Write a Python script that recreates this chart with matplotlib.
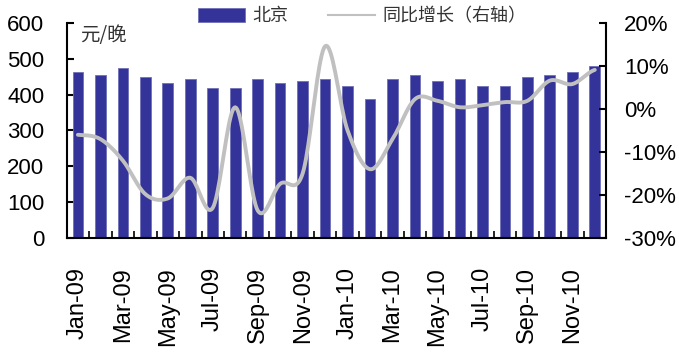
import numpy as np
import matplotlib
matplotlib.use('Agg')
import matplotlib.pyplot as plt
from matplotlib import font_manager
from matplotlib.patches import Patch
from matplotlib.lines import Line2D

# data
months = ['Jan-09', 'Feb-09', 'Mar-09', 'Apr-09', 'May-09', 'Jun-09',
          'Jul-09', 'Aug-09', 'Sep-09', 'Oct-09', 'Nov-09', 'Dec-09',
          'Jan-10', 'Feb-10', 'Mar-10', 'Apr-10', 'May-10', 'Jun-10',
          'Jul-10', 'Aug-10', 'Sep-10', 'Oct-10', 'Nov-10', 'Dec-10']
beijing = [462, 456, 474, 450, 432, 444, 419, 419, 444, 432, 438, 444,
           425, 389, 444, 456, 438, 444, 425, 425, 450, 456, 463, 481]
yoy = [-6.0, -7.0, -12.0, -19.8, -20.8, -16.0, -23.0, 0.4, -23.6, -17.4, -15.0, 14.6,
       -5.0, -14.0, -7.0, 2.3, 1.9, 0.4, 0.9, 1.6, 1.9, 6.6, 5.8, 9.1]
left_ticks = [0, 100, 200, 300, 400, 500, 600]
right_ticks = [-30, -20, -10, 0, 10, 20]


def pick_font(names, default):
    for n in names:
        try:
            font_manager.findfont(n, fallback_to_default=False)
            return n
        except ValueError:
            pass
    return default


def smooth(y, n=20):
    # excel-like smoothed line (catmull-rom through every point)
    y = np.asarray(y, dtype=float)
    xs, ys = [], []
    for i in range(len(y) - 1):
        p0 = y[i - 1] if i > 0 else y[i]
        p3 = y[i + 2] if i + 2 < len(y) else y[i + 1]
        m1 = (y[i + 1] - p0) / 2
        m2 = (p3 - y[i]) / 2
        t = np.linspace(0, 1, n, endpoint=False)
        h00 = 2 * t**3 - 3 * t**2 + 1
        h10 = t**3 - 2 * t**2 + t
        h01 = -2 * t**3 + 3 * t**2
        h11 = t**3 - t**2
        xs.append(i + t)
        ys.append(h00 * y[i] + h10 * m1 + h01 * y[i + 1] + h11 * m2)
    xs.append([len(y) - 1])
    ys.append([y[-1]])
    return np.concatenate(xs), np.concatenate(ys)


narrow = pick_font(['Liberation Sans Narrow'], None)
if narrow:
    num_font, num_size = narrow, 20
else:
    num_font, num_size = pick_font(['Liberation Sans', 'Arial'], 'DejaVu Sans'), 16
lab_font = pick_font(['Liberation Sans', 'Arial'], 'DejaVu Sans')
cjk = ['Noto Sans CJK SC', 'DejaVu Sans']

fig = plt.figure(figsize=(6.79, 3.56), dpi=100)
ax = fig.add_axes([0.0982, 0.3315, 0.7943, 0.6039])
x = np.arange(len(months))

ax.bar(x, beijing, width=0.475, color='#333399', edgecolor='#7070b8', linewidth=0.6, zorder=2)
ax.set_xlim(-0.5, len(months) - 0.5)
ax.set_ylim(0, 600)
ax.set_yticks(left_ticks)
ax.set_yticklabels([str(v) for v in left_ticks], fontsize=num_size, family=num_font)
ax.tick_params(axis='y', direction='in', length=5, width=1.5, pad=16)

ax.set_xticks(x[::2])
ax.set_xticklabels(months[::2], rotation=90, fontsize=17, family=lab_font)
ax.set_xticks(np.arange(len(months) + 1) - 0.5, minor=True)
ax.tick_params(axis='x', which='major', length=0, pad=21)
ax.tick_params(axis='x', which='minor', direction='in', length=5, width=1.2)

for s in ['top', 'right']:
    ax.spines[s].set_visible(False)
for s in ['left', 'bottom']:
    ax.spines[s].set_linewidth(1.5)

ax2 = ax.twinx()
sx, sy = smooth(yoy)
ax2.plot(sx, sy, color='#c0c0c0', linewidth=2.8, solid_capstyle='round')
ax2.set_ylim(-30, 20)
ax2.set_yticks(right_ticks)
ax2.set_yticklabels(['%d%%' % v for v in right_ticks], fontsize=num_size, family=num_font)
ax2.tick_params(axis='y', direction='in', length=5, width=1.5, pad=13)
for s in ['top', 'left', 'bottom']:
    ax2.spines[s].set_visible(False)
ax2.spines['right'].set_linewidth(1.5)

ax.text(0.025, 0.99, '元/晚', transform=ax.transAxes, ha='left', va='top',
        fontsize=14, family=cjk, color='#333333')

handles = [Patch(facecolor='#333399', edgecolor='#7070b8', linewidth=0.6),
           Line2D([], [], color='#c0c0c0', linewidth=1.5)]
fig.legend(handles, ['北京', '同比增长（右轴）'], loc='center left',
           bbox_to_anchor=(198 / 679, 1 - 16.5 / 356), ncol=2, frameon=False,
           prop={'family': cjk, 'size': 13}, labelcolor='#333333',
           handlelength=2.6, handleheight=0.78, handletextpad=0.4,
           columnspacing=2.2, borderpad=0, borderaxespad=0)

fig.savefig('out.png', dpi=100)
